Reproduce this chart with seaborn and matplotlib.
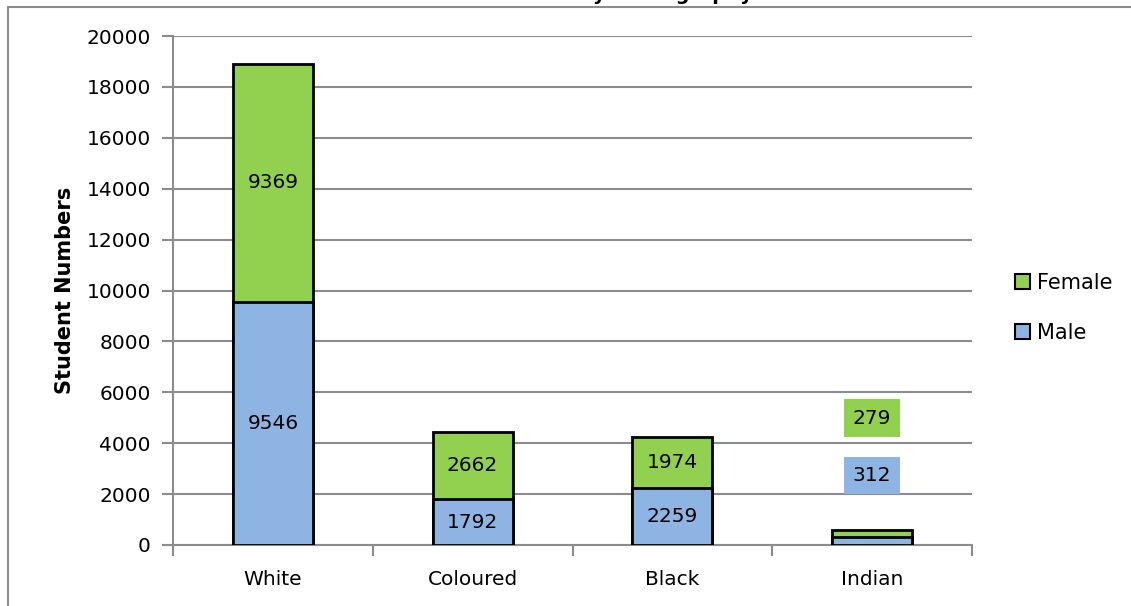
import matplotlib
matplotlib.use("Agg")
import matplotlib.pyplot as plt
import seaborn as sns
import pandas as pd
from matplotlib.lines import Line2D
from matplotlib.ticker import FixedLocator

groups = ["White", "Coloured", "Black", "Indian"]
male = [9546, 1792, 2259, 312]
female = [9369, 2662, 1974, 279]
yticks = [0, 2000, 4000, 6000, 8000, 10000, 12000, 14000, 16000, 18000, 20000]

GREEN = "#92D050"
BLUE = "#8EB4E3"
GRID = "#8c8c8c"
FS = 14.5

sns.set_theme(style="white")
plt.rcParams["font.family"] = ["DejaVu Sans"]
plt.rcParams["text.color"] = "black"
plt.rcParams["axes.labelcolor"] = "black"

df = pd.DataFrame({"group": groups, "male": male, "female": female})
df["total"] = df["male"] + df["female"]

fig = plt.figure(figsize=(11.31, 6.06), dpi=100)
ax = fig.add_axes([173 / 1131, 1 - 545 / 606, (972 - 173) / 1131, (545 - 36) / 606])

# stacked look: full totals in green, male share drawn over it in blue
sns.barplot(data=df, x="group", y="total", color=GREEN, width=0.4,
            edgecolor="black", linewidth=2, saturation=1, ax=ax, zorder=3)
sns.barplot(data=df, x="group", y="male", color=BLUE, width=0.4,
            edgecolor="black", linewidth=2, saturation=1, ax=ax, zorder=4)

ax.set_ylim(0, 20000)
ax.set_xlim(-0.5, 3.5)
ax.set_yticks(yticks)
ax.set_yticklabels([str(v) for v in yticks], fontsize=FS)
ax.set_xticklabels(groups, fontsize=FS)
ax.set_xlabel("")
ax.set_ylabel("Student Numbers", fontsize=15, fontweight="bold", labelpad=8)

ax.yaxis.grid(True, color=GRID, linewidth=1.5, zorder=0)
ax.set_axisbelow(True)
for side in ["top", "right"]:
    ax.spines[side].set_visible(False)
for side in ["left", "bottom"]:
    ax.spines[side].set_color(GRID)
    ax.spines[side].set_linewidth(1.5)

ax.tick_params(axis="y", which="major", left=True, length=8, width=1.5,
               color=GRID, labelcolor="black", pad=8)
ax.tick_params(axis="x", which="major", bottom=False, labelcolor="black", pad=12)
ax.xaxis.set_minor_locator(FixedLocator([-0.5, 0.5, 1.5, 2.5, 3.5]))
ax.tick_params(axis="x", which="minor", bottom=True, length=8, width=1.5,
               color=GRID)

# segment labels
for i, (m, f) in enumerate(zip(male, female)):
    if i < 3:
        ax.text(i, m / 2, str(m), ha="center", va="center", fontsize=FS, zorder=6)
        ax.text(i, m + f / 2, str(f), ha="center", va="center", fontsize=FS, zorder=6)
    else:
        ax.text(i, 4990, str(f), ha="center", va="center", fontsize=FS, zorder=6,
                bbox=dict(boxstyle="square,pad=0.45", fc=GREEN, ec="none"))
        ax.text(i, 2730, str(m), ha="center", va="center", fontsize=FS, zorder=6,
                bbox=dict(boxstyle="square,pad=0.45", fc=BLUE, ec="none"))

handles = [
    plt.Rectangle((0, 0), 1, 1, fc=GREEN, ec="black", lw=1.5),
    plt.Rectangle((0, 0), 1, 1, fc=BLUE, ec="black", lw=1.5),
]
fig.legend(handles, ["Female", "Male"], loc="center left",
           bbox_to_anchor=(996 / 1131, 1 - 308 / 606), frameon=False,
           fontsize=15, handlelength=0.75, handleheight=0.75, handletextpad=0.3,
           labelspacing=1.45)

# chart frame and title running above the visible area
fig.add_artist(Line2D([8 / 1131, 1], [1 - 7 / 606, 1 - 7 / 606],
                      transform=fig.transFigure, color=GRID, lw=1.5))
fig.add_artist(Line2D([8 / 1131, 8 / 1131], [0, 1 - 7 / 606],
                      transform=fig.transFigure, color=GRID, lw=1.5))
fig.text(0.5, 1.0, "Student Numbers by Demography", ha="center",
         va="baseline", fontsize=14, fontweight="bold")

fig.savefig("out.png", dpi=100)
